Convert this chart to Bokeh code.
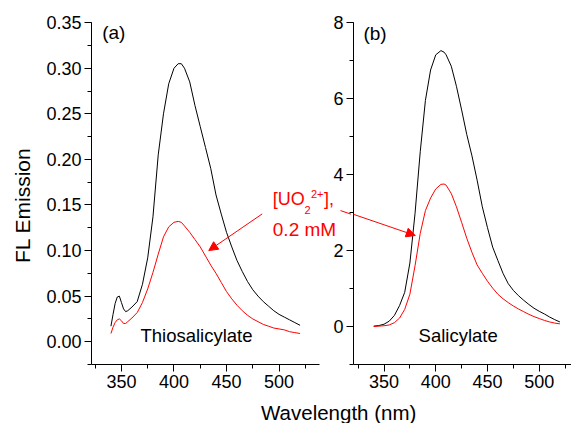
import math
from bokeh.plotting import figure
from bokeh.layouts import row, column
from bokeh.models import (Label, Arrow, NormalHead, SingleIntervalTicker,
                          PrintfTickFormatter, Range1d)
from bokeh.core.properties import value
from bokeh.embed import file_html
from bokeh.resources import INLINE

# ---------------- data ----------------
wl_thio = [340, 342, 344, 346, 348, 350, 352, 354, 356, 360, 365, 370, 375, 380,
           385, 390, 395, 400, 404, 407, 410, 415, 420, 425, 430, 435, 440, 445,
           450, 455, 460, 465, 470, 475, 480, 485, 490, 495, 500, 505, 510, 515, 520]
thio_free = [0.017, 0.030, 0.042, 0.049, 0.050, 0.043, 0.036, 0.033, 0.034, 0.038,
             0.044, 0.063, 0.092, 0.137, 0.205, 0.250, 0.283, 0.300, 0.305, 0.305,
             0.300, 0.285, 0.259, 0.236, 0.213, 0.190, 0.161, 0.140, 0.120, 0.104,
             0.089, 0.077, 0.066, 0.057, 0.050, 0.044, 0.039, 0.034, 0.030, 0.027,
             0.024, 0.021, 0.018]
thio_uo2 = [0.009, 0.016, 0.021, 0.024, 0.025, 0.023, 0.020, 0.020, 0.022, 0.026,
            0.032, 0.043, 0.058, 0.076, 0.096, 0.115, 0.126, 0.131, 0.132, 0.131,
            0.127, 0.120, 0.112, 0.104, 0.094, 0.084, 0.075, 0.065, 0.055, 0.047,
            0.040, 0.034, 0.029, 0.025, 0.022, 0.019, 0.017, 0.015, 0.014, 0.013,
            0.011, 0.010, 0.009]

wl_sal = [340, 345, 350, 355, 360, 365, 370, 375, 380, 385, 390, 395, 400, 405,
          408, 410, 415, 420, 425, 430, 435, 440, 445, 450, 455, 460, 465, 470,
          475, 480, 485, 490, 495, 500, 505, 510, 515, 520]
sal_free = [0.01, 0.025, 0.06, 0.14, 0.29, 0.55, 0.90, 1.67, 2.98, 4.60, 5.95, 6.75,
            7.15, 7.26, 7.22, 7.15, 6.85, 6.32, 5.70, 5.05, 4.49, 3.85, 3.15, 2.60,
            2.09, 1.74, 1.40, 1.13, 0.95, 0.81, 0.69, 0.58, 0.48, 0.40, 0.33, 0.25,
            0.18, 0.12]
sal_uo2 = [0.00, 0.01, 0.02, 0.04, 0.10, 0.22, 0.45, 0.85, 1.60, 2.45, 3.05, 3.38,
           3.62, 3.74, 3.75, 3.72, 3.50, 3.15, 2.74, 2.32, 1.95, 1.62, 1.40, 1.19,
           1.01, 0.85, 0.73, 0.63, 0.54, 0.46, 0.39, 0.32, 0.26, 0.21, 0.16, 0.12,
           0.09, 0.07]

x_ticks_interval = 50
y_a_interval = 0.05
y_b_interval = 2

FONT = "Liberation Sans"
RED = "#ff0000"
H1 = 396      # height of the two panels
H3 = 27       # height of the strip holding the x label


def style(p, yinterval, yfmt):
    p.xgrid.visible = False
    p.ygrid.visible = False
    p.outline_line_color = None
    p.xaxis.ticker = SingleIntervalTicker(interval=x_ticks_interval, num_minor_ticks=2)
    p.yaxis.ticker = SingleIntervalTicker(interval=yinterval, num_minor_ticks=2)
    p.yaxis.formatter = PrintfTickFormatter(format=yfmt)
    for ax in (p.xaxis, p.yaxis):
        ax.axis_line_color = "black"
        ax.axis_line_width = 1
        ax.major_tick_line_color = "black"
        ax.minor_tick_line_color = "black"
        ax.major_tick_in = 0
        ax.major_tick_out = 7
        ax.minor_tick_in = 0
        ax.minor_tick_out = 4
        ax.major_label_text_font = FONT
        ax.major_label_text_font_size = "18px"
        ax.major_label_text_color = "black"
    p.xaxis.major_label_standoff = 3
    p.yaxis.major_label_standoff = 3


def blank(width, height):
    f = figure(width=width, height=height, x_range=Range1d(0, width),
               y_range=Range1d(0, height), output_backend="svg",
               toolbar_location=None, title=None, x_axis_type=None,
               y_axis_type=None, min_border=0)
    f.outline_line_color = None
    f.xgrid.visible = False
    f.ygrid.visible = False
    return f


# ---------------- y label strip ----------------
p0 = blank(36, H1)
p0.text(x=[22], y=[H1 - 211.7], text=["FL Emission"], angle=math.pi / 2,
        text_align="center", text_baseline="middle", text_font=value(FONT),
        text_font_size="21px", text_color="black")

# ---------------- panel (a) ----------------
p1 = figure(width=315, height=H1, x_range=Range1d(321.5, 568.95),
            y_range=Range1d(-0.025, 0.3502), output_backend="svg",
            toolbar_location=None, title=None,
            min_border_left=55, min_border_right=0, min_border_top=22,
            min_border_bottom=32)
style(p1, y_a_interval, "%.2f")
p1.xaxis.bounds = (321.5, 538.5)
p1.line(wl_thio, thio_free, line_color="black", line_width=1)
p1.line(wl_thio, thio_uo2, line_color=RED, line_width=1)

p1.add_layout(Label(x=331.7, y=0.3277, text="(a)", text_font=FONT,
                    text_font_size="19px", text_color="black"))
p1.add_layout(Label(x=368.1, y=-0.0049, text="Thiosalicylate", text_font=FONT,
                    text_font_size="18.5px", text_color="black"))
# annotation text [UO2 2+], 0.2 mM
p1.add_layout(Label(x=494.05, y=0.1457, text="[UO", text_font=FONT,
                    text_font_size="18px", text_color=RED))
p1.add_layout(Label(x=524.2, y=0.1402, text="2", text_font=FONT,
                    text_font_size="11px", text_color=RED))
p1.add_layout(Label(x=530.4, y=0.1578, text="2+", text_font=FONT,
                    text_font_size="11px", text_color=RED))
p1.add_layout(Label(x=542.8, y=0.1457, text="],", text_font=FONT,
                    text_font_size="18px", text_color=RED))
p1.add_layout(Label(x=494.05, y=0.1121, text="0.2 mM", text_font=FONT,
                    text_font_size="19px", text_color=RED))
p1.add_layout(Arrow(end=NormalHead(size=9, fill_color=RED, line_color=RED, line_width=1),
                    x_start=483.96, y_start=0.1402, x_end=433.1, y_end=0.100,
                    line_color=RED, line_width=1))
# first stretch of the arrow toward panel (b) (the rest is drawn by panel b)
p1.add_layout(Arrow(end=None, x_start=558.49, y_start=0.14386, x_end=628.25,
                    y_end=0.11645, line_color=RED, line_width=1))

# ---------------- panel (b) ----------------
p2 = figure(width=241, height=H1, x_range=Range1d(320.5, 531.2),
            y_range=Range1d(-1, 8), output_backend="svg",
            toolbar_location=None, title=None,
            min_border_left=21, min_border_right=0, min_border_top=22,
            min_border_bottom=32)
style(p2, y_b_interval, "%d")
p2.border_fill_alpha = 0
p2.background_fill_alpha = 0
p2.margin = (0, 0, 0, -21)
p2.line(wl_sal, sal_free, line_color="black", line_width=1)
p2.line(wl_sal, sal_uo2, line_color=RED, line_width=1)
p2.add_layout(Label(x=330.1, y=7.439, text="(b)", text_font=FONT,
                    text_font_size="19px", text_color="black"))
p2.add_layout(Label(x=383.4, y=-0.518, text="Salicylate", text_font=FONT,
                    text_font_size="18.5px", text_color="black"))
p2.add_layout(Arrow(end=NormalHead(size=9, fill_color=RED, line_color=RED, line_width=1),
                    x_start=309.97, y_start=3.05, x_end=380.2, y_end=2.395,
                    line_color=RED, line_width=1))

# ---------------- shared x label ----------------
p3 = blank(571, H3)
p3.text(x=[341], y=[11], text=["Wavelength  (nm)"], text_align="center",
        text_baseline="alphabetic", text_font=value(FONT), text_font_size="20.5px",
        text_color="black")

layout = column(row(p0, p1, p2), p3)
open("out.html", "w").write(file_html(layout, INLINE))
